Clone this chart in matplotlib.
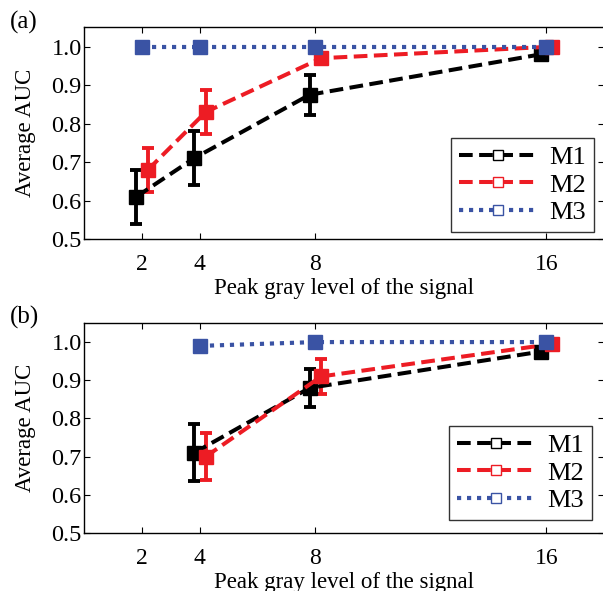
import matplotlib
matplotlib.use("Agg")
import matplotlib.pyplot as plt
from matplotlib.lines import Line2D
import numpy as np

# ---------------------------------------------------------------------------
# Data
# ---------------------------------------------------------------------------
peak_levels = [2, 4, 8, 16]

# panel (a)
a_m1 = [0.61, 0.71, 0.875, 0.98]
a_m1_err = [0.07, 0.07, 0.052, 0.012]
a_m2 = [0.68, 0.83, 0.97, 1.0]
a_m2_err = [0.057, 0.058, 0.012, 0.004]
a_m3 = [1.0, 1.0, 1.0, 1.0]
a_m3_err = [0.0, 0.0, 0.0, 0.0]

# panel (b) -- no result at level 2
b_levels = [4, 8, 16]
b_m1 = [0.71, 0.88, 0.975]
b_m1_err = [0.075, 0.05, 0.012]
b_m2 = [0.70, 0.91, 0.995]
b_m2_err = [0.062, 0.045, 0.006]
b_m3 = [0.99, 1.0, 1.0]
b_m3_err = [0.01, 0.0, 0.0]

series_names = ["M1", "M2", "M3"]
y_ticks = [0.5, 0.6, 0.7, 0.8, 0.9, 1.0]

# ---------------------------------------------------------------------------
# Style
# ---------------------------------------------------------------------------
BLACK = "#000000"
RED = "#ED1C24"
BLUE = "#3A53A4"
colors = [BLACK, RED, BLUE]
widths = [2.9, 2.9, 3.0]
styles = [(0, (3.4, 1.6)), (0, (3.4, 1.6)), (0, (1.0, 1.4))]
offsets = [-0.2, 0.2, 0.0]

plt.rcParams.update({
    "font.family": ["Liberation Serif", "DejaVu Serif"],
    "font.size": 16,
    "xtick.direction": "in",
    "ytick.direction": "in",
    "xtick.top": True,
    "ytick.right": True,
    "xtick.major.size": 4,
    "ytick.major.size": 4,
})


def draw_panel(ax, xs, ys_list, errs_list, leg_anchor):
    for ys, errs, col, ls, lw, off in zip(ys_list, errs_list, colors, styles,
                                          widths, offsets):
        xo = np.array(xs, dtype=float) + off
        ax.errorbar(xo, ys, yerr=errs, color=col, linestyle=ls, linewidth=lw,
                    marker="s", markersize=10, markeredgecolor=col,
                    markerfacecolor=col, elinewidth=2.8, capsize=4,
                    capthick=2.8)
    ax.set_xlim(0, 18)
    ax.set_ylim(0.5, 1.05)
    ax.set_xticks(peak_levels)
    ax.set_xticklabels([str(v) for v in peak_levels], fontsize=17)
    ax.set_yticks(y_ticks)
    ax.set_yticklabels([f"{v:.1f}" for v in y_ticks], fontsize=17.5)
    ax.tick_params(axis="x", pad=11)
    ax.tick_params(axis="y", pad=2)
    ax.set_xlabel("Peak gray level of the signal", fontsize=16.5, labelpad=2)
    ax.set_ylabel("Average AUC", fontsize=16.5, labelpad=11)
    for sp in ax.spines.values():
        sp.set_linewidth(1.0)

    handles = [Line2D([0], [0], color=c, linestyle=ls, linewidth=lw,
                      marker="s", markersize=7, markerfacecolor="white",
                      markeredgecolor=c, markeredgewidth=1.0)
               for c, ls, lw in zip(colors, styles, widths)]
    leg = ax.legend(handles, series_names, loc="lower right", fontsize=19,
                    handlelength=3.0, handletextpad=0.45, labelspacing=0.15,
                    borderpad=0.3, frameon=True, fancybox=False,
                    edgecolor="black", borderaxespad=0.0,
                    bbox_to_anchor=leg_anchor)
    leg.get_frame().set_linewidth(1.0)


fig = plt.figure(figsize=(6.03, 5.91), dpi=100)
ax_a = fig.add_axes([0.140, 0.5956, 0.862, 0.358])
ax_b = fig.add_axes([0.140, 0.0981, 0.862, 0.3554])

draw_panel(ax_a, peak_levels, [a_m1, a_m2, a_m3],
           [a_m1_err, a_m2_err, a_m3_err], (0.981, 0.033))
draw_panel(ax_b, b_levels, [b_m1, b_m2, b_m3],
           [b_m1_err, b_m2_err, b_m3_err], (0.977, 0.062))

fig.text(10 / 603, 1 - 22 / 591, "(a)", fontsize=18, ha="left", va="center")
fig.text(10 / 603, 1 - 317 / 591, "(b)", fontsize=18, ha="left", va="center")

fig.savefig("out.png", dpi=100)
